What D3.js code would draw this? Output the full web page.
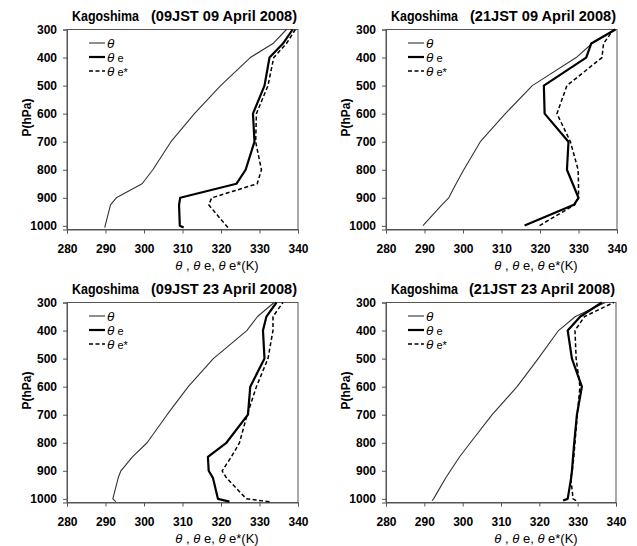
<!DOCTYPE html>
<html>
<head>
<meta charset="utf-8">
<script src="https://cdn.jsdelivr.net/npm/d3@7"></script>
<style>
  html, body { margin: 0; padding: 0; background: #fff; }
  svg { display: block; }
  text { font-family: "Liberation Sans", Arial, sans-serif; }
</style>
</head>
<body>
<svg id="chart" width="637" height="546"></svg>
<script>
// ---------------- DATA ----------------
const stationName = "Kagoshima";
const titleTimes = [
  "(09JST 09 April 2008)",
  "(21JST 09 April 2008)",
  "(09JST 23 April 2008)",
  "(21JST 23 April 2008)"
];
const xTicks = [280, 290, 300, 310, 320, 330, 340];
const yTicks = [300, 400, 500, 600, 700, 800, 900, 1000];
const legendLabels = ["θ", "θe", "θe*"];

// Panel 1: 09JST 09 April 2008
const pres1    = [1006, 1000, 925, 900, 850, 800, 700, 600, 500, 400, 350, 300];
const theta1   = [289.8, 289.9, 291.3, 292.8, 299.5, 302.3, 307.0, 313.1, 319.9, 327.6, 333.5, 337.0];
const thetaE1  = [310.3, 309.3, 309.1, 309.4, 324.0, 326.4, 328.7, 328.3, 331.3, 332.6, 336.1, 338.6];
const thetaES1 = [321.8, 321.4, 316.8, 317.6, 329.4, 330.5, 329.0, 329.2, 332.2, 333.7, 337.0, 339.3];

// Panel 2: 21JST 09 April 2008
const pres2    = [999, 925, 900, 850, 800, 700, 600, 500, 400, 350, 300];
const theta2   = [289.6, 294.5, 296.3, 298.2, 300.2, 304.5, 311.0, 318.0, 329.4, 333.5, 339.4];
const thetaE2  = [316.0, 328.8, 330.0, 328.5, 327.0, 327.4, 321.2, 321.0, 332.0, 333.3, 339.6];
const thetaES2 = [319.9, 329.0, 330.0, 330.0, 329.9, 327.9, 324.4, 327.0, 336.1, 336.5, 339.1];

// Panel 3: 09JST 23 April 2008
const pres3    = [1010, 1000, 925, 900, 850, 800, 700, 600, 500, 400, 350, 300];
const theta3   = [292.7, 291.9, 293.3, 294.0, 297.0, 300.8, 306.0, 311.5, 318.0, 326.7, 329.5, 333.8];
const thetaE3  = [322.2, 319.2, 317.9, 316.8, 316.6, 321.4, 327.0, 327.6, 331.3, 330.9, 331.8, 334.4];
const thetaES3 = [332.6, 326.6, 321.4, 320.3, 322.7, 324.8, 326.8, 329.2, 332.2, 333.5, 333.5, 336.1];

// Panel 4: 21JST 23 April 2008
const pres4    = [1006, 1000, 925, 900, 850, 800, 700, 600, 500, 400, 350, 300];
const theta4   = [292.0, 292.4, 295.6, 296.8, 299.2, 302.0, 307.7, 314.2, 319.7, 325.0, 329.4, 337.2];
const thetaE4  = [326.2, 327.4, 328.3, 328.5, 328.8, 329.1, 329.8, 331.1, 328.5, 327.4, 330.7, 336.3];
const thetaES4 = [329.6, 328.8, 328.2, 328.6, 329.0, 329.3, 329.9, 330.6, 329.6, 329.3, 331.8, 339.4];

const panelsData = [
  { time: titleTimes[0], p: pres1, series: [theta1, thetaE1, thetaES1] },
  { time: titleTimes[1], p: pres2, series: [theta2, thetaE2, thetaES2] },
  { time: titleTimes[2], p: pres3, series: [theta3, thetaE3, thetaES3] },
  { time: titleTimes[3], p: pres4, series: [theta4, thetaE4, thetaES4] }
];

// ---------------- LAYOUT ----------------
const layout = [
  { x: 67,  y: 29.5,  w: 231, h: 200 },
  { x: 386, y: 29.5,  w: 231, h: 200 },
  { x: 67,  y: 302.5, w: 231, h: 200 },
  { x: 386, y: 302.5, w: 230, h: 200 }
];
const styles = [
  { stroke: "#333", width: 1.1, dash: null },
  { stroke: "#000", width: 2.2, dash: null },
  { stroke: "#000", width: 1.5, dash: "4,2.5" }
];

const svg = d3.select("#chart");

panelsData.forEach((pd, i) => {
  const L = layout[i];
  const g = svg.append("g").attr("transform", `translate(${L.x},${L.y})`);
  const x = d3.scaleLinear().domain([280, 340]).range([0, L.w]);
  const y = d3.scaleLinear().domain([300, 1013]).range([0, L.h]);

  // frame
  g.append("rect").attr("x", 0).attr("y", 0).attr("width", L.w).attr("height", L.h)
    .attr("fill", "none").attr("stroke", "#555").attr("stroke-width", 1);

  // axes
  const xa = g.append("g").attr("transform", `translate(0,${L.h})`)
    .call(d3.axisBottom(x).tickValues(xTicks).tickSize(4).tickPadding(11).tickFormat(d3.format("d")));
  const ya = g.append("g")
    .call(d3.axisLeft(y).tickValues(yTicks).tickSize(4).tickPadding(6).tickFormat(d3.format("d")));
  [xa, ya].forEach(a => {
    a.select(".domain").attr("stroke", "#555");
    a.selectAll(".tick line").attr("stroke", "#555");
    a.selectAll(".tick text").attr("fill", "#000")
      .style("font-family", '"Liberation Sans", Arial, sans-serif')
      .style("font-size", "12px").style("font-weight", "bold");
  });

  // lines
  pd.series.forEach((vals, k) => {
    const pts = vals.map((v, j) => [v, pd.p[j]]);
    const line = d3.line().x(d => x(d[0])).y(d => y(d[1]));
    g.append("path").datum(pts).attr("d", line)
      .attr("fill", "none").attr("stroke", styles[k].stroke)
      .attr("stroke-width", styles[k].width)
      .attr("stroke-linejoin", "round")
      .attr("stroke-dasharray", styles[k].dash);
  });

  // legend
  legendLabels.forEach((lab, k) => {
    const ly = 13.5 + k * 14;
    g.append("line").attr("x1", 22).attr("x2", 38).attr("y1", ly).attr("y2", ly)
      .attr("stroke", styles[k].stroke).attr("stroke-width", styles[k].width)
      .attr("stroke-dasharray", styles[k].dash);
    const t = g.append("text").attr("x", 40).attr("y", ly + 4.5)
      .style("font-size", "13.5px").attr("fill", "#000");
    t.append("tspan").style("font-style", "italic").text("θ");
    if (lab.length > 1) t.append("tspan").style("font-size", "11px").text(" " + lab.slice(1));
  });

  // title
  svg.append("text").attr("x", L.x + 5).attr("y", L.y - 9)
    .attr("text-anchor", "start").style("font-size", "14px").style("font-weight", "bold")
    .attr("fill", "#000").attr("textLength", 67).attr("lengthAdjust", "spacingAndGlyphs")
    .text(stationName);
  svg.append("text").attr("x", L.x + L.w - 147).attr("y", L.y - 9)
    .attr("text-anchor", "start").style("font-size", "14px").style("font-weight", "bold")
    .attr("fill", "#000").attr("textLength", 146).attr("lengthAdjust", "spacingAndGlyphs")
    .text(pd.time);

  // y axis title
  svg.append("text")
    .attr("transform", `translate(${L.x - 36},${L.y + 88}) rotate(-90)`)
    .attr("text-anchor", "middle").style("font-size", "12px").style("font-weight", "bold")
    .attr("fill", "#000").text("P(hPa)");

  // x axis title
  const xt = svg.append("text").attr("x", L.x + 150).attr("y", L.y + L.h + 40)
    .attr("text-anchor", "middle").style("font-size", "13px").attr("fill", "#000");
  xt.append("tspan").style("font-style", "italic").text("θ");
  xt.append("tspan").text(" , ");
  xt.append("tspan").style("font-style", "italic").text("θ");
  xt.append("tspan").text(" e, ");
  xt.append("tspan").style("font-style", "italic").text("θ");
  xt.append("tspan").text(" e*(K)");
});
</script>
</body>
</html>
